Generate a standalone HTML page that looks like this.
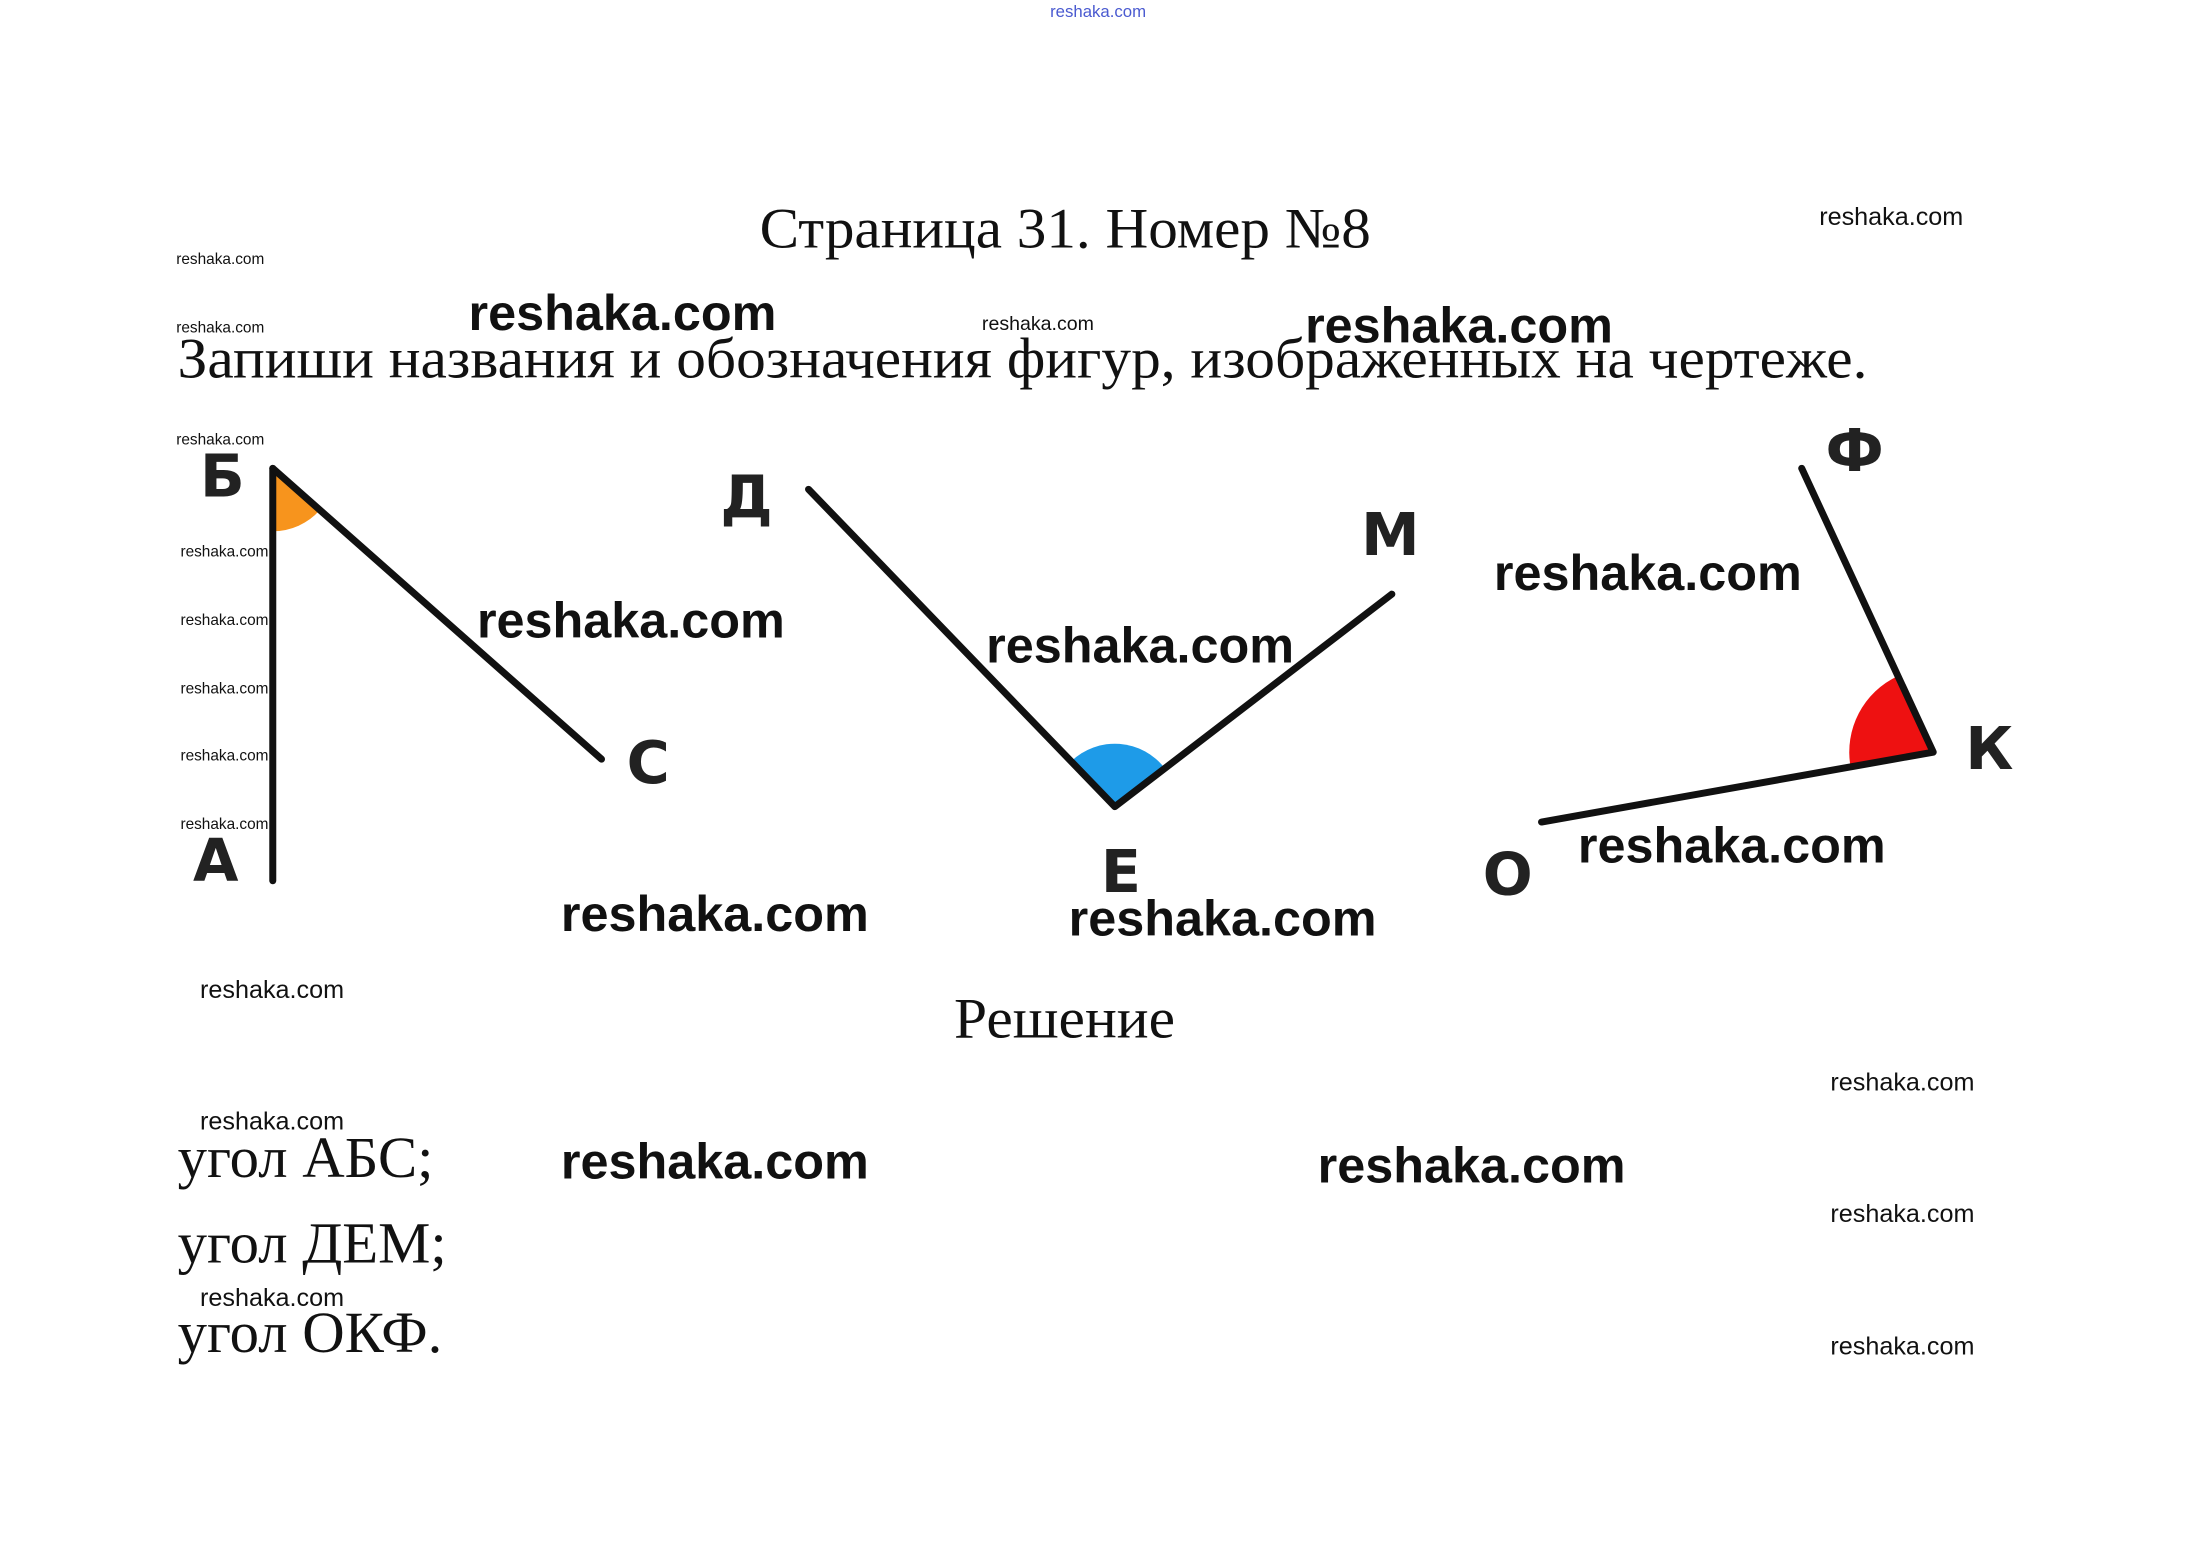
<!DOCTYPE html>
<html><head><meta charset="utf-8">
<style>
html,body{margin:0;padding:0;background:#fff;}
svg{display:block;}
.serif{font-family:"Liberation Serif","Noto Serif CJK SC",serif;fill:#111;}
.lbl{font-family:"DejaVu Sans","Liberation Sans",sans-serif;font-weight:bold;fill:#222;}
.wm{font-family:"Liberation Sans","DejaVu Sans",sans-serif;font-weight:bold;fill:#111;}
.ws{font-family:"Liberation Sans","DejaVu Sans",sans-serif;fill:#111;}
</style></head><body>
<svg width="2192" height="1563" viewBox="0 0 1567 1118" preserveAspectRatio="none" xmlns="http://www.w3.org/2000/svg">
<rect width="1567" height="1118" fill="#fff"/>
<text x="785" y="12" font-size="12" text-anchor="middle" class="ws" style="fill:#4a5ad0">reshaka.com</text>

<text x="543" y="177" font-size="41" textLength="437" lengthAdjust="spacingAndGlyphs" class="serif">Страница 31. Номер №8</text>
<text x="1352" y="161" font-size="18" text-anchor="middle" class="ws">reshaka.com</text>
<text x="126" y="189" font-size="11" class="ws">reshaka.com</text>
<text x="126" y="238" font-size="11" class="ws">reshaka.com</text>
<text x="742" y="236" font-size="14" text-anchor="middle" class="ws">reshaka.com</text>
<text x="127" y="270" font-size="41" textLength="1208" lengthAdjust="spacingAndGlyphs" class="serif">Запиши названия и обозначения фигур, изображенных на чертеже.</text>
<text x="445" y="236" font-size="36" text-anchor="middle" class="wm">reshaka.com</text>
<text x="1043" y="245" font-size="36" text-anchor="middle" class="wm">reshaka.com</text>
<text x="126" y="318" font-size="11" class="ws">reshaka.com</text>

<!-- figure 1 -->
<path d="M195,335 L228.7,364.8 A45 45 0 0 1 195,380 Z" fill="#f7941d"/>
<g stroke="#111" stroke-width="5" stroke-linecap="round" fill="none">
<line x1="195" y1="335" x2="195" y2="630"/>
<line x1="195" y1="335" x2="430" y2="543"/>
</g>
<text x="143" y="355" font-size="42" class="lbl">Б</text>
<text x="138" y="630" font-size="42" class="lbl">А</text>
<text x="448" y="560" font-size="42" class="lbl">С</text>
<text x="129" y="398" font-size="11" class="ws">reshaka.com</text>
<text x="129" y="447" font-size="11" class="ws">reshaka.com</text>
<text x="129" y="496" font-size="11" class="ws">reshaka.com</text>
<text x="129" y="544" font-size="11" class="ws">reshaka.com</text>
<text x="129" y="593" font-size="11" class="ws">reshaka.com</text>
<text x="451" y="456" font-size="36" text-anchor="middle" class="wm">reshaka.com</text>

<!-- figure 2 -->
<path d="M797,577 L765.7,544.6 A45 45 0 0 1 832.7,549.6 Z" fill="#1e9be8"/>
<g stroke="#111" stroke-width="5" stroke-linecap="round" stroke-linejoin="round" fill="none">
<polyline points="578,350 797,577 995,425"/>
</g>
<text x="515" y="370" font-size="42" class="lbl">Д</text>
<text x="973" y="397" font-size="42" class="lbl">М</text>
<text x="787" y="638" font-size="42" class="lbl">Е</text>
<text x="815" y="474" font-size="36" text-anchor="middle" class="wm">reshaka.com</text>

<!-- figure 3 -->
<path d="M1382,538 L1322.9,548.4 A60 60 0 0 1 1356.8,483.5 Z" fill="#ee1111"/>
<g stroke="#111" stroke-width="5" stroke-linecap="round" stroke-linejoin="round" fill="none">
<polyline points="1288,335 1382,538 1102,588"/>
</g>
<text x="1305" y="337" font-size="42" class="lbl">Ф</text>
<text x="1405" y="550" font-size="42" class="lbl">К</text>
<text x="1060" y="640" font-size="42" class="lbl">О</text>
<text x="1178" y="422" font-size="36" text-anchor="middle" class="wm">reshaka.com</text>
<text x="1238" y="617" font-size="36" text-anchor="middle" class="wm">reshaka.com</text>

<text x="511" y="666" font-size="36" text-anchor="middle" class="wm">reshaka.com</text>
<text x="874" y="669" font-size="36" text-anchor="middle" class="wm">reshaka.com</text>
<text x="143" y="714" font-size="18" class="ws">reshaka.com</text>
<text x="682" y="742" font-size="41" textLength="158" lengthAdjust="spacingAndGlyphs" class="serif">Решение</text>
<text x="1360" y="780" font-size="18" text-anchor="middle" class="ws">reshaka.com</text>
<text x="143" y="808" font-size="18" class="ws">reshaka.com</text>
<text x="127" y="842" font-size="42" class="serif">угол АБС;</text>
<text x="511" y="843" font-size="36" text-anchor="middle" class="wm">reshaka.com</text>
<text x="1052" y="846" font-size="36" text-anchor="middle" class="wm">reshaka.com</text>
<text x="1360" y="874" font-size="18" text-anchor="middle" class="ws">reshaka.com</text>
<text x="127" y="903" font-size="42" class="serif">угол ДЕМ;</text>
<text x="143" y="934" font-size="18" class="ws">reshaka.com</text>
<text x="127" y="967" font-size="42" class="serif">угол ОКФ.</text>
<text x="1360" y="969" font-size="18" text-anchor="middle" class="ws">reshaka.com</text>
</svg>
</body></html>
